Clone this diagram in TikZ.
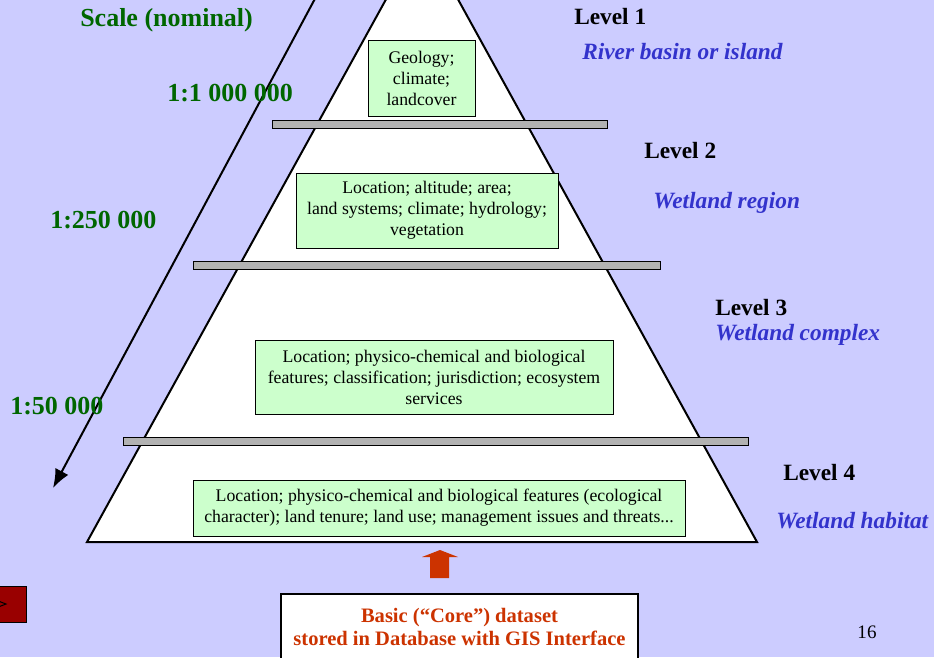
\documentclass[tikz,border=0pt]{standalone}
\usepackage{fontspec}
\setmainfont{Liberation Serif}
\usetikzlibrary{arrows.meta}

\definecolor{bgblue}{RGB}{204,204,255}
\definecolor{boxgreen}{RGB}{204,255,204}
\definecolor{scalegreen}{RGB}{0,102,0}
\definecolor{subblue}{RGB}{51,51,204}
\definecolor{corered}{RGB}{204,51,0}
\definecolor{bargray}{RGB}{178,178,178}
\definecolor{btnred}{RGB}{153,0,0}

\tikzset{
  infobox/.style={draw=black, line width=0.6pt, fill=boxgreen, align=center, inner sep=0pt,
    font=\fontsize{13.3}{15.8}\selectfont},
  bar/.style={draw=black, line width=0.75pt, fill=bargray},
  scalelbl/.style={text=scalegreen, anchor=west, inner sep=0pt,
    font=\fontsize{19.5}{22}\selectfont\bfseries},
  levelname/.style={anchor=west, inner sep=0pt, font=\fontsize{17.5}{20}\selectfont\bfseries},
  levelsub/.style={text=subblue, anchor=west, inner sep=0pt,
    font=\fontsize{17.5}{20}\selectfont\bfseries\itshape}
}

\begin{document}
\begin{tikzpicture}[x=0.75pt,y=-0.75pt]

\useasboundingbox (0,0) rectangle (934,657);
\fill[bgblue] (0,0) rectangle (934,657);

%Pyramide
\filldraw[fill=white, line width=1.5pt] (422,-66) -- (87,542) -- (757,542) -- cycle;

\draw[bar] (272,120) rectangle (607,128);
\draw[bar] (193,261) rectangle (660,269);
\draw[bar] (123,437) rectangle (748,445);

%Scale arrow
\coordinate (scaletop) at (325,-20);
\coordinate (scalebot) at (53,488);
\draw[-{Latex[length=14pt,width=11pt]}, line width=1.5pt] (scaletop) -- (scalebot);

%Boxes
\node[infobox, minimum width=80.25pt, minimum height=57pt] (geo) at (421.5,78)
  {Geology;\\climate;\\landcover};
\node[infobox, minimum width=196.5pt, minimum height=56.25pt] (region) at (427,210.5)
  {Location; altitude; area;\\land systems; climate; hydrology;\\vegetation};
\node[infobox, minimum width=268.5pt, minimum height=55.5pt] (complex) at (434,377)
  {Location; physico-chemical and biological\\features; classification; jurisdiction; ecosystem\\services};
\node[infobox, minimum width=369pt, minimum height=42pt] (habitat) at (439,508)
  {Location; physico-chemical and biological features (ecological\\character); land tenure; land use; management issues and threats...};

%Core dataset
\fill[corered] (430,578) -- (430,557) -- (422,557) -- (440,550) -- (458,557) -- (449,557) -- (449,578) -- cycle;
\node[draw=black, line width=1.5pt, fill=white, minimum width=267.75pt, minimum height=49.5pt,
  align=center, inner sep=0pt, text=corered, font=\fontsize{15.4}{17.25}\selectfont\bfseries]
  (core) at (459.5,627) {Basic (“Core”) dataset\\stored in Database with GIS Interface};

%Button
\filldraw[fill=btnred, draw=black, line width=0.75pt] (-10,586) rectangle (26,622);
\draw[black, line width=0.75pt] (-12,597) -- (6,604) -- (-12,611);

%Beschriftung
\node[scalelbl] (scaletitle) at (80,20) {Scale (nominal)};
\node[scalelbl] (scaleone) at (167,93) {1:1 000 000};
\node[scalelbl] (scaletwo) at (50,220) {1:250 000};
\node[scalelbl] (scalethree) at (10,406) {1:50 000};

\node[levelname] (lvlone) at (574,17) {Level 1};
\node[levelsub] (subone) at (582,52) {River basin or island};
\node[levelname] (lvltwo) at (644,151) {Level 2};
\node[levelsub] (subtwo) at (653,203) {Wetland region};
\node[levelname] (lvlthree) at (715,308) {Level 3};
\node[levelsub] (subthree) at (715,335) {Wetland complex};
\node[levelname] (lvlfour) at (783,473) {Level 4};
\node[levelsub] (subfour) at (776,521) {Wetland habitat};

\node[font=\fontsize{14.3}{16}\selectfont, inner sep=0pt] (pagenum) at (867,632) {16};

\end{tikzpicture}
\end{document}
